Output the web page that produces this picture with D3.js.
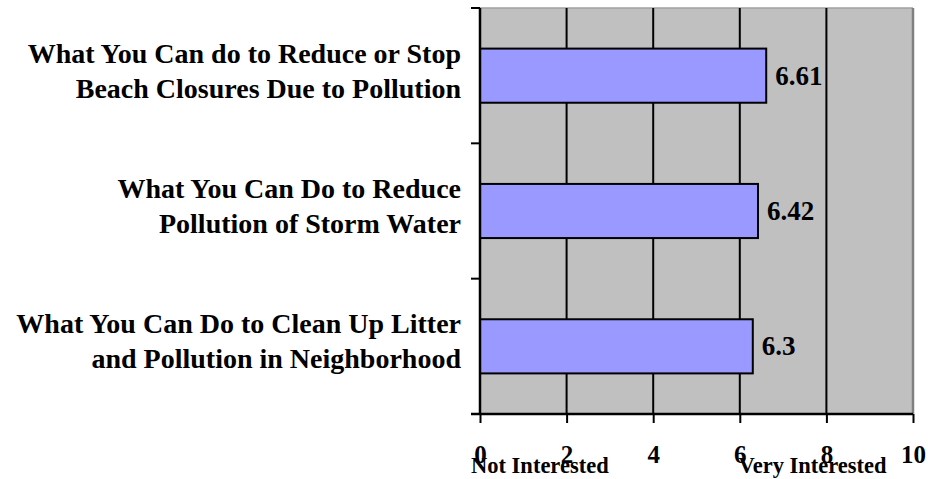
<!DOCTYPE html>
<html>
<head>
<meta charset="utf-8">
<script src="https://cdn.jsdelivr.net/npm/d3@7"></script>
<style>
  body { margin: 0; background: #fff; }
  svg text { font-family: "Liberation Serif", "Times New Roman", serif; font-weight: bold; fill: #000; }
</style>
</head>
<body>
<svg id="chart"></svg>
<script>
    // chart data
    var categories = [
        ["What You Can do to Reduce or Stop", "Beach Closures Due to Pollution"],
        ["What You Can Do to Reduce", "Pollution of Storm Water"],
        ["What You Can Do to Clean Up Litter", "and Pollution in Neighborhood"]
    ];
    var scores = [6.61, 6.42, 6.3];
    var xTicks = [0, 2, 4, 6, 8, 10];
    var scaleNotes = ["Not Interested", "Very Interested"];

    var svgWidth = 928;
    var svgHeight = 479;
    var margin = { top: 8, right: 15, bottom: 65, left: 480 };
    var width = svgWidth - margin.left - margin.right;
    var height = svgHeight - margin.top - margin.bottom;

    var svg = d3.select("#chart")
        .attr("width", svgWidth)
        .attr("height", svgHeight)
        .append("g")
        .attr("transform", "translate(" + margin.left + "," + margin.top + ")");

    var xScale = d3.scaleLinear().domain([0, 10]).range([0, width]);
    var yScale = d3.scaleBand()
        .domain(d3.range(categories.length))
        .range([0, height])
        .paddingInner(0.6)
        .paddingOuter(0.3);

    // plot background
    svg.append("rect")
        .attr("width", width)
        .attr("height", height)
        .attr("fill", "#c0c0c0");
    svg.append("line")
        .attr("x1", 0).attr("x2", width).attr("y1", 0).attr("y2", 0)
        .attr("stroke", "#a0a0a0").attr("stroke-width", 1.5);
    svg.append("line")
        .attr("x1", width).attr("x2", width).attr("y1", 0).attr("y2", height)
        .attr("stroke", "#808080").attr("stroke-width", 2.5);

    // gridlines
    svg.selectAll(".grid")
        .data(xTicks.filter(function (d) { return d > 0 && d < 10; }))
        .enter().append("line")
        .attr("x1", function (d) { return xScale(d); })
        .attr("x2", function (d) { return xScale(d); })
        .attr("y1", 0).attr("y2", height)
        .attr("stroke", "#000").attr("stroke-width", 2);

    // bars
    svg.selectAll(".bar")
        .data(scores)
        .enter().append("rect")
        .attr("x", xScale(0))
        .attr("y", function (d, i) { return yScale(i); })
        .attr("width", function (d) { return xScale(d) - xScale(0); })
        .attr("height", yScale.bandwidth())
        .attr("fill", "#9999ff")
        .attr("stroke", "#000")
        .attr("stroke-width", 2);

    // value labels
    svg.selectAll(".val")
        .data(scores)
        .enter().append("text")
        .attr("x", function (d) { return xScale(d) + 9; })
        .attr("y", function (d, i) { return yScale(i) + yScale.bandwidth() / 2 + 9; })
        .style("font-size", "27px")
        .text(function (d) { return d; });

    // y axis: ticks between categories
    var step = height / categories.length;
    svg.append("line")
        .attr("x1", 0).attr("x2", 0).attr("y1", 0).attr("y2", height)
        .attr("stroke", "#000").attr("stroke-width", 2.5);
    svg.selectAll(".ytick")
        .data(d3.range(categories.length + 1))
        .enter().append("line")
        .attr("x1", -9).attr("x2", 0)
        .attr("y1", function (d) { return d * step; })
        .attr("y2", function (d) { return d * step; })
        .attr("stroke", "#000").attr("stroke-width", 2);

    // category labels
    var catLabels = svg.selectAll(".cat")
        .data(categories)
        .enter().append("text")
        .attr("text-anchor", "end")
        .style("font-size", "28px")
        .attr("y", function (d, i) { return yScale(i) + yScale.bandwidth() / 2; });
    catLabels.selectAll("tspan")
        .data(function (d) { return d; })
        .enter().append("tspan")
        .attr("x", -19)
        .attr("dy", function (d, j) { return j === 0 ? -13 : 35; })
        .text(function (d) { return d; });

    // x axis
    var xAxis = svg.append("g")
        .attr("transform", "translate(0," + height + ")")
        .call(d3.axisBottom(xScale).tickValues(xTicks).tickSize(9).tickPadding(22));
    xAxis.attr("font-family", null);
    xAxis.select(".domain").attr("stroke-width", 2.5).attr("d", "M-9,0H" + width);
    xAxis.selectAll(".tick line").attr("stroke-width", 2);
    xAxis.selectAll(".tick text")
        .style("font-size", "25px");

    // scale end notes
    svg.append("text")
        .attr("x", -9).attr("y", height + 59)
        .style("font-size", "22.5px")
        .text(scaleNotes[0]);
    svg.append("text")
        .attr("x", xScale(5.97)).attr("y", height + 59)
        .style("font-size", "22.5px")
        .text(scaleNotes[1]);
</script>
</body>
</html>
